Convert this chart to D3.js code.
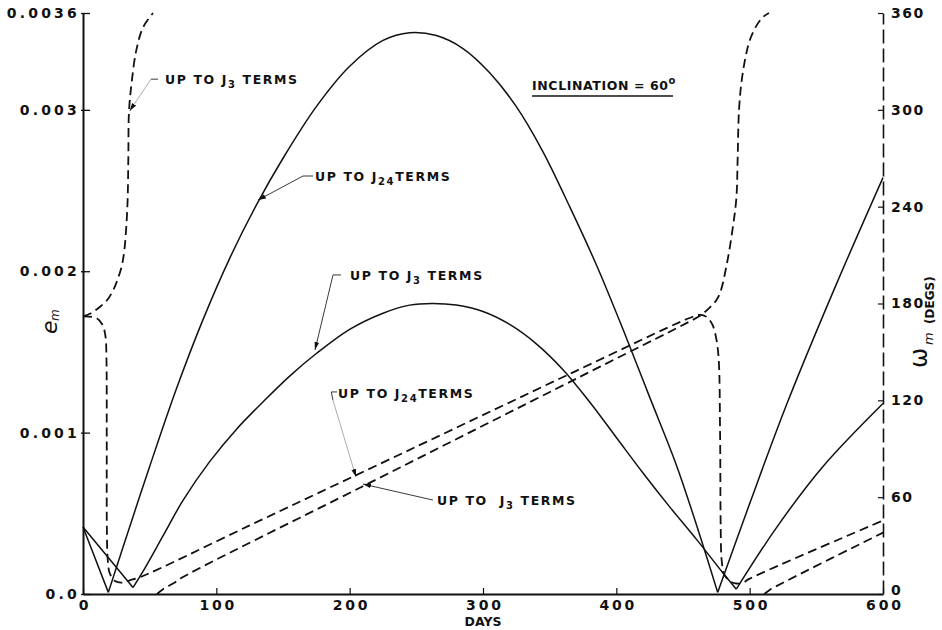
<!DOCTYPE html>
<html><head><meta charset="utf-8">
<script src="https://cdn.jsdelivr.net/npm/d3@7"></script>
<style>body{margin:0;background:#fff} svg{display:block}</style>
</head><body>
<svg id="c" width="942" height="630"></svg>
<script>
// ---------------- data ----------------
const xTicks = [0, 100, 200, 300, 400, 500, 600];
const eTicks = [0, 0.001, 0.002, 0.003, 0.0036];
const eTickLabels = ["0.0", "0.001", "0.002", "0.003", "0.0036"];
const wTicks = [0, 60, 120, 180, 240, 300, 360];

// e_m (eccentricity) — solid lines  [day, e]
const eJ24 = [[0,0.000415],[19,0.00001],[30,0.00029],[50,0.00079],[70,0.00127],[90,0.0017],[110,0.00208],[130,0.00241],[150,0.0027],[175,0.00302],[200,0.00327],[225,0.00343],[245,0.003478],[265,0.00346],[285,0.00338],[305,0.00323],[325,0.00302],[345,0.00274],[365,0.0024],[385,0.00204],[405,0.00164],[425,0.00122],[445,0.0008],[462,0.00038],[476,0.00001],[500,0.00056],[528,0.00118],[564,0.0019],[600,0.00258]];
const eJ3 = [[0,0.000415],[37.5,0.00004],[45,0.00014],[60,0.00036],[75,0.00058],[95,0.00082],[115,0.00102],[135,0.00119],[155,0.00135],[175,0.00149],[200,0.00164],[225,0.00174],[245,0.00179],[262,0.0018],[280,0.00179],[300,0.00175],[320,0.00167],[340,0.00155],[360,0.00139],[380,0.00119],[400,0.00097],[420,0.00075],[440,0.00054],[460,0.00034],[480,0.00013],[490,0.00003],[520,0.00041],[555,0.00079],[600,0.00118]];

// omega_m (degrees) — dashed lines  [day, deg]
const wJ24 = [[0,172],[10,171],[14.5,167],[16.8,160],[17.6,145],[17.8,100],[17.9,40],[18.5,22],[20,13],[24,8],[29,7],[35,8.5],[43,10.5],[125,42.5],[250,91.3],[368,137.5],[455,171],[463,173],[468,171.5],[472,167],[475,158],[476.8,145],[477.8,100],[478.3,40],[479,21],[481,12],[485,8],[490,6.5],[495,7],[500,9.5],[600,45.5]];
const wJ3a = [[0,172],[6,174],[12.8,178],[18,182],[22.5,188],[26,195],[29,203],[31,213],[32.5,228],[33.5,245],[34,270],[34.5,299],[36.5,317],[40,337],[45,351],[52.5,360]];
const wJ3b = [[55.5,0],[60,3],[67.5,6.5],[75,10.5],[210,66.8],[373,134.7],[453,168],[463,172.5],[470,177.5],[475,182],[478,187],[483,205],[487,225],[490,245],[491,270],[492,300],[494,318],[497,333],[500,343],[505,352],[510,357.5],[514.5,360]];
const wJ3c = [[511,0],[515,2.5],[525,7],[600,38]];

// annotation labels: position [day, e-scale value]
const labels = [
  {pos:[61.5,0.00316], parts:[["UP TO J"],["3",1],[" TERMS"]]},
  {pos:[174,0.002559], parts:[["UP TO J"],["24",1],["TERMS"]]},
  {pos:[200.3,0.001946], parts:[["UP TO J"],["3",1],[" TERMS"]]},
  {pos:[191.3,0.001214], parts:[["UP TO J"],["24",1],["TERMS"]]},
  {pos:[265.5,0.000551], parts:[["UP TO  J"],["3",1],[" TERMS"]]}
];
// leader lines [day, e-scale value], last point is arrow tip
const leaders = [
  {pts:[[56.3,0.00319],[51,0.00319]], arrow:false},
  {pts:[[51,0.00319],[35,0.002993]], arrow:true, faint:true},
  {pts:[[172.5,0.00259],[165,0.00259],[131.25,0.002441]], arrow:true},
  {pts:[[193.5,0.001977],[187.5,0.001977],[174,0.001512]], arrow:true},
  {pts:[[190.5,0.001252],[186.2,0.001252],[187.5,0.0012]], arrow:false},
  {pts:[[187.5,0.0012],[204.75,0.000725]], arrow:true, faint:true},
  {pts:[[262.5,0.000582],[210,0.000681]], arrow:true}
];
const inclination = {pos:[336.8,0.003123], underlineTo:442.5, underlineY:0.003086};

// ---------------- drawing ----------------
const svg = d3.select('#c');
const x = d3.scaleLinear().domain([0,600]).range([83,883]);
const yE = d3.scaleLinear().domain([0,0.0036]).range([594,13]);
const yW = d3.scaleLinear().domain([0,360]).range([594,13]);
const FONT = "'DejaVu Sans', sans-serif";

svg.append('defs').append('marker')
  .attr('id','arr').attr('viewBox','0 0 10 6').attr('refX',10).attr('refY',3)
  .attr('markerWidth',8).attr('markerHeight',5).attr('markerUnits','userSpaceOnUse')
  .attr('orient','auto')
  .append('path').attr('d','M0,0 L10,3 L0,6 Z').attr('fill','#111');

// axes
const gL = svg.append('g').attr('transform',`translate(${x(0)},0)`)
  .call(d3.axisLeft(yE).tickValues(eTicks).tickSize(-7).tickSizeOuter(0).tickPadding(3)
    .tickFormat((d,i)=>eTickLabels[i]));
gL.select('.domain').attr('stroke','#111').attr('stroke-width',2);
gL.selectAll('.tick line').attr('stroke','#111').attr('stroke-width',1.3).attr('x1',-2);
gL.selectAll('.tick text').attr('font-family',FONT).attr('font-weight','bold')
  .attr('font-size',14).attr('letter-spacing',3.2).attr('fill','#111');

const gB = svg.append('g').attr('transform',`translate(0,${yE(0)})`)
  .call(d3.axisBottom(x).tickValues(xTicks).tickSize(-6).tickSizeOuter(0).tickPadding(6));
gB.select('.domain').attr('stroke','#111').attr('stroke-width',1.8);
gB.selectAll('.tick line').attr('stroke','#111').attr('stroke-width',1.2);
gB.selectAll('.tick text').attr('font-family',FONT).attr('font-weight','bold')
  .attr('font-size',14).attr('letter-spacing',2.8).attr('dx',1.4).attr('fill','#111');

const gR = svg.append('g').attr('transform',`translate(${x(600)},0)`)
  .call(d3.axisRight(yW).tickValues(wTicks).tickSize(-5).tickSizeOuter(0).tickPadding(8));
gR.select('.domain').attr('stroke','#111').attr('stroke-width',1.6).attr('stroke-dasharray','14,5');
gR.selectAll('.tick line').attr('stroke','#111').attr('stroke-width',1.2);
gR.selectAll('.tick text').attr('font-family',FONT).attr('font-weight','bold')
  .attr('font-size',14).attr('letter-spacing',1.5).attr('fill','#111')
  .attr('y', d => d === 0 ? -4 : 0);

// axis titles
svg.append('text').attr('x',x(300)).attr('y',626).attr('text-anchor','middle')
  .attr('font-family',FONT).attr('font-weight','bold').attr('font-size',12.5).attr('fill','#111').text('DAYS');
svg.append('text').attr('transform','translate(57,334) rotate(-90)')
  .attr('font-family',FONT).attr('font-style','italic').attr('font-size',22).attr('fill','#111').text('e');
svg.append('text').attr('transform','translate(59,321) rotate(-90)')
  .attr('font-family',FONT).attr('font-style','italic').attr('font-size',12).attr('fill','#111').text('m');
svg.append('text').attr('transform','translate(927,368) rotate(-90)')
  .attr('font-family',FONT).attr('font-size',24).attr('fill','#111').text('ω');
svg.append('text').attr('transform','translate(933,345) rotate(-90)')
  .attr('font-family',FONT).attr('font-style','italic').attr('font-size',13).attr('fill','#111').text('m');
svg.append('text').attr('transform','translate(934,324) rotate(-90)')
  .attr('font-family',FONT).attr('font-weight','bold').attr('font-size',12).attr('fill','#111').text('(DEGS)');

// curves: e curves drawn branch by branch between their minima (sharp V corners)
const lineE = d3.line().x(d=>x(d[0])).y(d=>yE(d[1])).curve(d3.curveCatmullRom.alpha(0.5));
const lineW = d3.line().x(d=>x(d[0])).y(d=>yW(d[1])).curve(d3.curveCatmullRom.alpha(0.5));
function branches(s) {
  const cuts = [0];
  for (let i = 1; i < s.length - 1; i++) if (s[i][1] < s[i-1][1] && s[i][1] < s[i+1][1]) cuts.push(i);
  cuts.push(s.length - 1);
  const out = [];
  for (let k = 0; k < cuts.length - 1; k++) out.push(s.slice(cuts[k], cuts[k+1] + 1));
  return out;
}
[eJ24, eJ3].forEach(s => {
  const p = branches(s).map(b => lineE(b)).join('');
  svg.append('path').attr('d', p).attr('fill','none')
    .attr('stroke','#111').attr('stroke-width',1.5).attr('stroke-linejoin','round');
});
[wJ24, wJ3a, wJ3b, wJ3c].forEach(s => svg.append('path').attr('d',lineW(s)).attr('fill','none')
  .attr('stroke','#111').attr('stroke-width',1.8).attr('stroke-dasharray','9,5'));

// leaders
const lineP = d3.line().x(d=>x(d[0])).y(d=>yE(d[1]));
leaders.forEach(l => svg.append('path').attr('d',lineP(l.pts)).attr('fill','none')
  .attr('stroke', l.faint ? '#888' : '#222').attr('stroke-width', l.faint ? 0.7 : 0.9)
  .attr('marker-end', l.arrow ? 'url(#arr)' : null));

// labels
labels.forEach(lb => {
  const t = svg.append('text').attr('x',x(lb.pos[0])).attr('y',yE(lb.pos[1]))
    .attr('font-family',FONT).attr('font-weight','bold').attr('font-size',12.5)
    .attr('letter-spacing',1.6).attr('fill','#111').attr('xml:space','preserve');
  let lowered = false;
  lb.parts.forEach(p => {
    const ts = t.append('tspan').text(p[0]);
    if (p[1]) { ts.attr('font-size',10).attr('dy',4); lowered = true; }
    else if (lowered) { ts.attr('dy',-4); lowered = false; }
  });
});
const inc = svg.append('text').attr('x',x(inclination.pos[0])).attr('y',yE(inclination.pos[1]))
  .attr('font-family',FONT).attr('font-weight','bold').attr('font-size',12.5)
  .attr('letter-spacing',0.6).attr('fill','#111');
inc.append('tspan').text('INCLINATION = 60');
inc.append('tspan').attr('font-size',10).attr('dy',-6).text('o');
svg.append('line').attr('x1',x(inclination.pos[0])).attr('x2',x(inclination.underlineTo))
  .attr('y1',yE(inclination.underlineY)).attr('y2',yE(inclination.underlineY))
  .attr('stroke','#111').attr('stroke-width',1.6);
</script>
</body></html>
